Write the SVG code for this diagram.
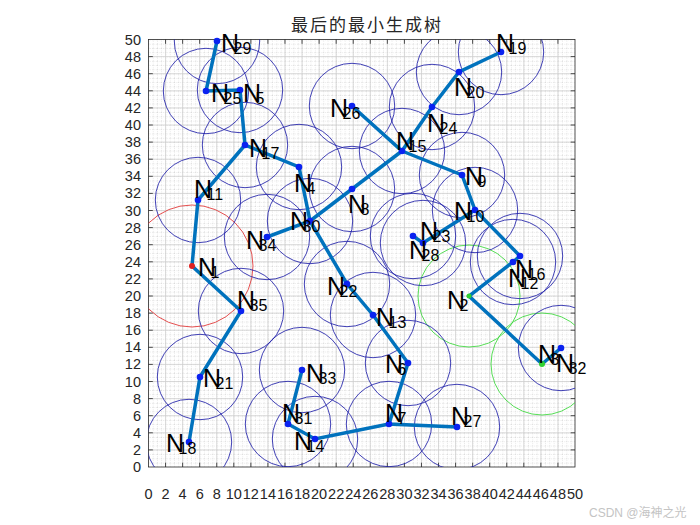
<svg xmlns="http://www.w3.org/2000/svg" width="700" height="525" viewBox="0 0 700 525">
<style>
.tk{font-family:"Liberation Sans",Arial,sans-serif;font-size:14.5px;fill:#262626}
.tx{text-anchor:middle}
.ty{text-anchor:end}
.n{font-family:"Liberation Sans",Arial,sans-serif;font-size:25px;fill:#000}
.s{font-size:16px}
.rg{fill:none;stroke:#1e1ea8;stroke-width:0.85}
.dot{fill:#0a22f0}
.e{stroke:#0072BD;stroke-width:3.5;stroke-linecap:round;fill:none}
</style>
<defs>
<pattern id="mg" patternUnits="userSpaceOnUse" x="148.5" y="39.5" width="4.265" height="4.275">
<path d="M0,0V4.275M0,0H4.265" stroke="#9c9c9c" stroke-width="0.55" stroke-dasharray="0.6 1.2" fill="none"/>
</pattern>
<clipPath id="ax"><rect x="148.5" y="39.5" width="426.5" height="427.5"/></clipPath>
</defs>
<rect width="700" height="525" fill="#fff"/>
<text x="367" y="31" text-anchor="middle" style="font-family:'Noto Sans CJK SC',sans-serif;font-size:17px;letter-spacing:2px;fill:#262626">最后的最小生成树</text>
<g id="grid">
<rect x="148.5" y="39.5" width="426.5" height="427.5" fill="url(#mg)"/>
<path stroke="#cfcfcf" stroke-width="0.8" fill="none" d="M165.56 39.5V467M182.62 39.5V467M199.68 39.5V467M216.74 39.5V467M233.8 39.5V467M250.86 39.5V467M267.92 39.5V467M284.98 39.5V467M302.04 39.5V467M319.1 39.5V467M336.16 39.5V467M353.22 39.5V467M370.28 39.5V467M387.34 39.5V467M404.4 39.5V467M421.46 39.5V467M438.52 39.5V467M455.58 39.5V467M472.64 39.5V467M489.7 39.5V467M506.76 39.5V467M523.82 39.5V467M540.88 39.5V467M557.94 39.5V467M148.5 449.9H575M148.5 432.8H575M148.5 415.7H575M148.5 398.6H575M148.5 381.5H575M148.5 364.4H575M148.5 347.3H575M148.5 330.2H575M148.5 313.1H575M148.5 296H575M148.5 278.9H575M148.5 261.8H575M148.5 244.7H575M148.5 227.6H575M148.5 210.5H575M148.5 193.4H575M148.5 176.3H575M148.5 159.2H575M148.5 142.1H575M148.5 125H575M148.5 107.9H575M148.5 90.8H575M148.5 73.7H575M148.5 56.6H575"/>
</g>
<g id="axes">
<rect x="148.5" y="39.5" width="426.5" height="427.5" fill="none" stroke="#262626" stroke-width="0.8"/>
<path stroke="#262626" stroke-width="0.8" fill="none" d="M165.56 467v-4.3M182.62 467v-4.3M199.68 467v-4.3M216.74 467v-4.3M233.8 467v-4.3M250.86 467v-4.3M267.92 467v-4.3M284.98 467v-4.3M302.04 467v-4.3M319.1 467v-4.3M336.16 467v-4.3M353.22 467v-4.3M370.28 467v-4.3M387.34 467v-4.3M404.4 467v-4.3M421.46 467v-4.3M438.52 467v-4.3M455.58 467v-4.3M472.64 467v-4.3M489.7 467v-4.3M506.76 467v-4.3M523.82 467v-4.3M540.88 467v-4.3M557.94 467v-4.3M165.56 39.5v4.3M182.62 39.5v4.3M199.68 39.5v4.3M216.74 39.5v4.3M233.8 39.5v4.3M250.86 39.5v4.3M267.92 39.5v4.3M284.98 39.5v4.3M302.04 39.5v4.3M319.1 39.5v4.3M336.16 39.5v4.3M353.22 39.5v4.3M370.28 39.5v4.3M387.34 39.5v4.3M404.4 39.5v4.3M421.46 39.5v4.3M438.52 39.5v4.3M455.58 39.5v4.3M472.64 39.5v4.3M489.7 39.5v4.3M506.76 39.5v4.3M523.82 39.5v4.3M540.88 39.5v4.3M557.94 39.5v4.3M148.5 449.9h4.3M148.5 432.8h4.3M148.5 415.7h4.3M148.5 398.6h4.3M148.5 381.5h4.3M148.5 364.4h4.3M148.5 347.3h4.3M148.5 330.2h4.3M148.5 313.1h4.3M148.5 296h4.3M148.5 278.9h4.3M148.5 261.8h4.3M148.5 244.7h4.3M148.5 227.6h4.3M148.5 210.5h4.3M148.5 193.4h4.3M148.5 176.3h4.3M148.5 159.2h4.3M148.5 142.1h4.3M148.5 125h4.3M148.5 107.9h4.3M148.5 90.8h4.3M148.5 73.7h4.3M148.5 56.6h4.3M575 449.9h-4.3M575 432.8h-4.3M575 415.7h-4.3M575 398.6h-4.3M575 381.5h-4.3M575 364.4h-4.3M575 347.3h-4.3M575 330.2h-4.3M575 313.1h-4.3M575 296h-4.3M575 278.9h-4.3M575 261.8h-4.3M575 244.7h-4.3M575 227.6h-4.3M575 210.5h-4.3M575 193.4h-4.3M575 176.3h-4.3M575 159.2h-4.3M575 142.1h-4.3M575 125h-4.3M575 107.9h-4.3M575 90.8h-4.3M575 73.7h-4.3M575 56.6h-4.3"/>
<g class="tk tx">
<text x="148.5" y="499">0</text><text x="165.56" y="499">2</text><text x="182.62" y="499">4</text><text x="199.68" y="499">6</text><text x="216.74" y="499">8</text><text x="233.8" y="499">10</text><text x="250.86" y="499">12</text><text x="267.92" y="499">14</text><text x="284.98" y="499">16</text><text x="302.04" y="499">18</text><text x="319.1" y="499">20</text><text x="336.16" y="499">22</text><text x="353.22" y="499">24</text><text x="370.28" y="499">26</text><text x="387.34" y="499">28</text><text x="404.4" y="499">30</text><text x="421.46" y="499">32</text><text x="438.52" y="499">34</text><text x="455.58" y="499">36</text><text x="472.64" y="499">38</text><text x="489.7" y="499">40</text><text x="506.76" y="499">42</text><text x="523.82" y="499">44</text><text x="540.88" y="499">46</text><text x="557.94" y="499">48</text><text x="575" y="499">50</text>
</g>
<g class="tk ty">
<text x="141" y="472">0</text><text x="141" y="454.9">2</text><text x="141" y="437.8">4</text><text x="141" y="420.7">6</text><text x="141" y="403.6">8</text><text x="141" y="386.5">10</text><text x="141" y="369.4">12</text><text x="141" y="352.3">14</text><text x="141" y="335.2">16</text><text x="141" y="318.1">18</text><text x="141" y="301">20</text><text x="141" y="283.9">22</text><text x="141" y="266.8">24</text><text x="141" y="249.7">26</text><text x="141" y="232.6">28</text><text x="141" y="215.5">30</text><text x="141" y="198.4">32</text><text x="141" y="181.3">34</text><text x="141" y="164.2">36</text><text x="141" y="147.1">38</text><text x="141" y="130">40</text><text x="141" y="112.9">42</text><text x="141" y="95.8">44</text><text x="141" y="78.7">46</text><text x="141" y="61.6">48</text><text x="141" y="44.5">50</text>
</g>
</g>
<g id="ranges" clip-path="url(#ax)">
<circle class="rg" cx="192" cy="266" r="61" style="stroke:#e03030"/>
<circle class="rg" cx="469" cy="296" r="51" style="stroke:#3ad83a"/>
<circle class="rg" cx="542" cy="364" r="51" style="stroke:#3ad83a"/>
<circle class="rg" cx="299" cy="167" r="42.7"/>
<circle class="rg" cx="240" cy="90" r="42.7"/>
<circle class="rg" cx="408" cy="363" r="42.7"/>
<circle class="rg" cx="389" cy="424" r="42.7"/>
<circle class="rg" cx="352" cy="189" r="42.7"/>
<circle class="rg" cx="462" cy="175" r="42.7"/>
<circle class="rg" cx="475" cy="210" r="42.7"/>
<circle class="rg" cx="198" cy="200" r="42.7"/>
<circle class="rg" cx="513" cy="262" r="42.7"/>
<circle class="rg" cx="373" cy="315" r="42.7"/>
<circle class="rg" cx="315" cy="439" r="42.7"/>
<circle class="rg" cx="402" cy="151" r="42.7"/>
<circle class="rg" cx="520" cy="256" r="42.7"/>
<circle class="rg" cx="245" cy="145" r="42.7"/>
<circle class="rg" cx="189" cy="442" r="42.7"/>
<circle class="rg" cx="501" cy="52" r="42.7"/>
<circle class="rg" cx="459" cy="72" r="42.7"/>
<circle class="rg" cx="200" cy="377" r="42.7"/>
<circle class="rg" cx="347" cy="284" r="42.7"/>
<circle class="rg" cx="423" cy="243" r="42.7"/>
<circle class="rg" cx="432" cy="107" r="42.7"/>
<circle class="rg" cx="206" cy="91" r="42.7"/>
<circle class="rg" cx="352" cy="106" r="42.7"/>
<circle class="rg" cx="457" cy="427" r="42.7"/>
<circle class="rg" cx="413" cy="236" r="42.7"/>
<circle class="rg" cx="217" cy="41" r="42.7"/>
<circle class="rg" cx="310" cy="221" r="42.7"/>
<circle class="rg" cx="288" cy="424" r="42.7"/>
<circle class="rg" cx="561" cy="348" r="42.7"/>
<circle class="rg" cx="302" cy="370" r="42.7"/>
<circle class="rg" cx="267" cy="237" r="42.7"/>
<circle class="rg" cx="241" cy="311" r="42.7"/>
</g>
<g id="connectors" class="e">
<path d="M217 41L206 91L240 90L245 145L299 167L310 221L267 237"/>
<path d="M245 145L198 200L192 266L241 311L200 377L189 442"/>
<path d="M310 221L352 189L402 151"/>
<path d="M310 221L347 284L373 315L408 363L389 424L457 427"/>
<path d="M389 424L315 439L288 424L302 370"/>
<path d="M352 106L402 151L432 107L459 72L501 52"/>
<path d="M402 151L462 175L475 210L423 243L413 236"/>
<path d="M475 210L520 256L513 262L469 296L542 364L561 348"/>
</g>
<g id="n1"><circle cx="192" cy="266" r="3" fill="#e02020"/><text class="n" x="198" y="276">N<tspan class="s" dx="-5.5" dy="2">1</tspan></text></g>
<g id="n2"><circle cx="469" cy="296" r="2.5" fill="#30d030"/><text class="n" x="447" y="309">N<tspan class="s" dx="-5.5" dy="2">2</tspan></text></g>
<g id="n3"><circle cx="542" cy="364" r="3" fill="#30d030"/><text class="n" x="538" y="363">N<tspan class="s" dx="-5.5" dy="2">3</tspan></text></g>
<g id="n4"><circle class="dot" cx="299" cy="167" r="3.3"/><text class="n" x="294" y="192">N<tspan class="s" dx="-5.5" dy="2">4</tspan></text></g>
<g id="n5"><circle class="dot" cx="240" cy="90" r="3.3"/><text class="n" x="243" y="102">N<tspan class="s" dx="-5.5" dy="2">5</tspan></text></g>
<g id="n6"><circle class="dot" cx="408" cy="363" r="3.3"/><text class="n" x="385" y="373">N<tspan class="s" dx="-5.5" dy="2">6</tspan></text></g>
<g id="n7"><circle class="dot" cx="389" cy="424" r="3.3"/><text class="n" x="385" y="422">N<tspan class="s" dx="-5.5" dy="2">7</tspan></text></g>
<g id="n8"><circle class="dot" cx="352" cy="189" r="3.3"/><text class="n" x="348" y="213">N<tspan class="s" dx="-5.5" dy="2">8</tspan></text></g>
<g id="n9"><circle class="dot" cx="462" cy="175" r="3.3"/><text class="n" x="465" y="185">N<tspan class="s" dx="-5.5" dy="2">9</tspan></text></g>
<g id="n10"><circle class="dot" cx="475" cy="210" r="3.3"/><text class="n" x="454" y="220">N<tspan class="s" dx="-5.5" dy="2">10</tspan></text></g>
<g id="n11"><circle class="dot" cx="198" cy="200" r="3.3"/><text class="n" x="194" y="198">N<tspan class="s" dx="-5.5" dy="2">11</tspan></text></g>
<g id="n12"><circle class="dot" cx="513" cy="262" r="3.3"/><text class="n" x="508" y="287">N<tspan class="s" dx="-5.5" dy="2">12</tspan></text></g>
<g id="n13"><circle class="dot" cx="373" cy="315" r="3.3"/><text class="n" x="376" y="326">N<tspan class="s" dx="-5.5" dy="2">13</tspan></text></g>
<g id="n14"><circle class="dot" cx="315" cy="439" r="3.3"/><text class="n" x="294" y="450">N<tspan class="s" dx="-5.5" dy="2">14</tspan></text></g>
<g id="n15"><circle class="dot" cx="402" cy="151" r="3.3"/><text class="n" x="396" y="150">N<tspan class="s" dx="-5.5" dy="2">15</tspan></text></g>
<g id="n16"><circle class="dot" cx="520" cy="256" r="3.3"/><text class="n" x="515" y="278">N<tspan class="s" dx="-5.5" dy="2">16</tspan></text></g>
<g id="n17"><circle class="dot" cx="245" cy="145" r="3.3"/><text class="n" x="249" y="157">N<tspan class="s" dx="-5.5" dy="2">17</tspan></text></g>
<g id="n18"><circle class="dot" cx="189" cy="442" r="3.3"/><text class="n" x="166" y="452">N<tspan class="s" dx="-5.5" dy="2">18</tspan></text></g>
<g id="n19"><circle class="dot" cx="501" cy="52" r="3.3"/><text class="n" x="496" y="52">N<tspan class="s" dx="-5.5" dy="2">19</tspan></text></g>
<g id="n20"><circle class="dot" cx="459" cy="72" r="3.3"/><text class="n" x="454" y="96">N<tspan class="s" dx="-5.5" dy="2">20</tspan></text></g>
<g id="n21"><circle class="dot" cx="200" cy="377" r="3.3"/><text class="n" x="203" y="387">N<tspan class="s" dx="-5.5" dy="2">21</tspan></text></g>
<g id="n22"><circle class="dot" cx="347" cy="284" r="3.3"/><text class="n" x="327" y="295">N<tspan class="s" dx="-5.5" dy="2">22</tspan></text></g>
<g id="n23"><circle class="dot" cx="423" cy="243" r="3.3"/><text class="n" x="420" y="240">N<tspan class="s" dx="-5.5" dy="2">23</tspan></text></g>
<g id="n24"><circle class="dot" cx="432" cy="107" r="3.3"/><text class="n" x="427" y="132">N<tspan class="s" dx="-5.5" dy="2">24</tspan></text></g>
<g id="n25"><circle class="dot" cx="206" cy="91" r="3.3"/><text class="n" x="211" y="102">N<tspan class="s" dx="-5.5" dy="2">25</tspan></text></g>
<g id="n26"><circle class="dot" cx="352" cy="106" r="3.3"/><text class="n" x="330" y="117">N<tspan class="s" dx="-5.5" dy="2">26</tspan></text></g>
<g id="n27"><circle class="dot" cx="457" cy="427" r="3.3"/><text class="n" x="451" y="425">N<tspan class="s" dx="-5.5" dy="2">27</tspan></text></g>
<g id="n28"><circle class="dot" cx="413" cy="236" r="3.3"/><text class="n" x="409" y="259">N<tspan class="s" dx="-5.5" dy="2">28</tspan></text></g>
<g id="n29"><circle class="dot" cx="217" cy="41" r="3.3"/><text class="n" x="221" y="52">N<tspan class="s" dx="-5.5" dy="2">29</tspan></text></g>
<g id="n30"><circle class="dot" cx="310" cy="221" r="3.3"/><text class="n" x="290" y="230">N<tspan class="s" dx="-5.5" dy="2">30</tspan></text></g>
<g id="n31"><circle class="dot" cx="288" cy="424" r="3.3"/><text class="n" x="282" y="422">N<tspan class="s" dx="-5.5" dy="2">31</tspan></text></g>
<g id="n32"><circle class="dot" cx="561" cy="348" r="3.3"/><text class="n" x="556" y="372">N<tspan class="s" dx="-5.5" dy="2">32</tspan></text></g>
<g id="n33"><circle class="dot" cx="302" cy="370" r="3.3"/><text class="n" x="306" y="382">N<tspan class="s" dx="-5.5" dy="2">33</tspan></text></g>
<g id="n34"><circle class="dot" cx="267" cy="237" r="3.3"/><text class="n" x="246" y="249">N<tspan class="s" dx="-5.5" dy="2">34</tspan></text></g>
<g id="n35"><circle class="dot" cx="241" cy="311" r="3.3"/><text class="n" x="237" y="309">N<tspan class="s" dx="-5.5" dy="2">35</tspan></text></g>
<text x="589" y="517" style="font-family:'Liberation Sans','Noto Sans CJK SC',sans-serif;font-size:12px;fill:#c4c4c4">CSDN @海神之光</text>
</svg>
